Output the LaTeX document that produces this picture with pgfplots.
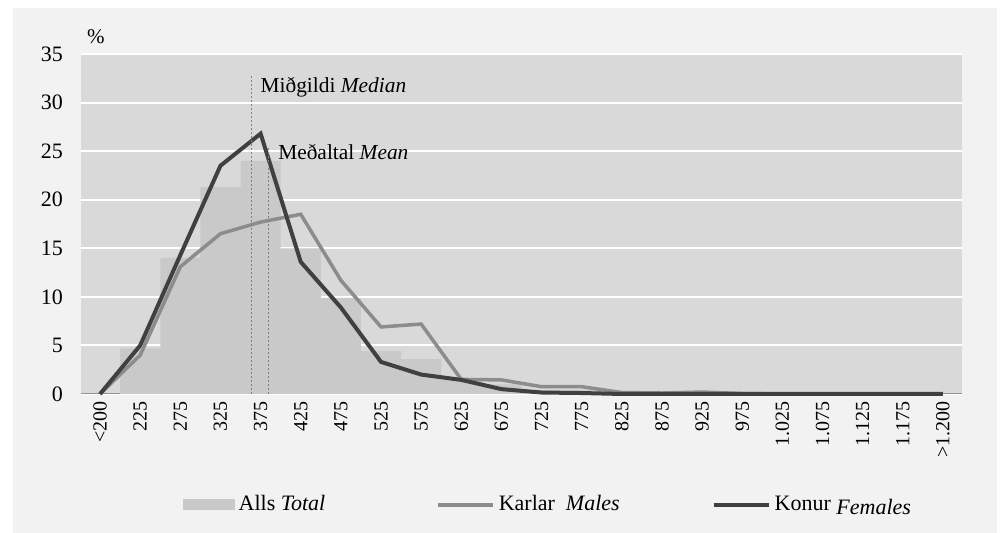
\documentclass[border=0pt]{standalone}
\usepackage{fontspec}
\setmainfont{Liberation Serif}
\usepackage{pgfplots}
\pgfplotsset{compat=1.18}
\definecolor{outerbg}{HTML}{F2F2F2}
\definecolor{plotbg}{HTML}{D9D9D9}
\definecolor{barcol}{HTML}{C9C9C9}
\definecolor{malecol}{HTML}{8C8C8C}
\definecolor{femcol}{HTML}{404040}
\definecolor{axisgray}{HTML}{8A8A8A}
\pgfplotsset{
  linelegend/.style={legend image code/.code={\draw[##1] (0pt,0pt) -- (27.5pt,0pt);}},
  boxlegend/.style={legend image code/.code={\fill[barcol] (0pt,-2.75pt) rectangle (26pt,2.75pt);}},
}
\begin{document}
\begin{tikzpicture}
\path[fill=white] (0pt,0pt) rectangle (501pt,266.5pt);
\fill[outerbg] (6.5pt,0pt) rectangle (498.5pt,262.5pt);
\begin{axis}[
  at={(40.5pt,69.5pt)}, anchor=south west,
  scale only axis, width=440.5pt, height=170pt,
  xmin=-0.475, xmax=21.475, ymin=0, ymax=35,
  ytick={0,5,...,35},
  xtick={0,...,21},
  xticklabels={{<200},225,275,325,375,425,475,525,575,625,675,725,775,825,875,925,975,{1.025},{1.075},{1.125},{1.175},{>1.200}},
  xticklabel style={rotate=90, anchor=east, font=\fontsize{10}{12}\selectfont},
  yticklabel style={xshift=-5.5pt, font=\fontsize{11}{13}\selectfont},
  /pgf/number format/assume math mode=true,
  major tick length=0pt,
  tick style={draw=none},
  axis background/.style={fill=plotbg},
  ymajorgrids, major grid style={white, line width=1pt},
  axis lines*=left,
  x axis line style={draw=axisgray, line width=0.5pt},
  y axis line style={draw=none},
  clip=false,
  legend columns=3,
  legend style={at={(0.531,-0.326)}, anchor=center, draw=none, fill=none,
    font=\fontsize{11}{13}\selectfont,
    /tikz/column 2/.style={column sep=53.5pt},
    /tikz/column 4/.style={column sep=44pt}},
]
\addplot[ybar, bar width=20.07pt, fill=barcol, draw=none, boxlegend]
  coordinates {(0,0) (1,4.7) (2,14.0) (3,21.3) (4,24.0) (5,15.0) (6,9.9) (7,4.4) (8,3.6) (9,1.5) (10,1.0) (11,0.4) (12,0.4) (13,0.1) (14,0.05) (15,0.1) (16,0) (17,0) (18,0) (19,0) (20,0) (21,0)};
\addlegendentry{Alls \textit{Total}}
\addplot[malecol, line width=1.75pt, linelegend]
  coordinates {(0,0) (1,4.0) (2,13.1) (3,16.5) (4,17.7) (5,18.5) (6,11.7) (7,6.9) (8,7.2) (9,1.5) (10,1.45) (11,0.75) (12,0.75) (13,0.15) (14,0.1) (15,0.2) (16,0.05) (17,0) (18,0) (19,0) (20,0) (21,0)};
\addlegendentry{Karlar\ \ \textit{Males}}
\addplot[femcol, line width=2pt, linelegend]
  coordinates {(0,0) (1,5.0) (2,14.3) (3,23.5) (4,26.8) (5,13.6) (6,8.9) (7,3.3) (8,2.0) (9,1.45) (10,0.5) (11,0.15) (12,0.1) (13,0) (14,0) (15,0) (16,0) (17,0) (18,0) (19,0) (20,0) (21,0)};
\addlegendentry{Konur \raisebox{-2pt}{\textit{Females}}}
\addplot[forget plot, gray, line width=0.4pt, dash pattern=on 1pt off 1pt] coordinates {(3.76,0) (3.76,32.8)};
\addplot[forget plot, gray, line width=0.4pt, dash pattern=on 1pt off 1pt] coordinates {(4.19,0) (4.19,25.5)};
\node[anchor=west, inner sep=0pt, font=\fontsize{10.7}{13}\selectfont] at (axis cs:3.99,31.6) {Miðgildi \textit{Median}};
\node[anchor=west, inner sep=0pt, font=\fontsize{10.7}{13}\selectfont] at (axis cs:4.43,24.9) {Meðaltal \textit{Mean}};
\node[inner sep=0pt, font=\fontsize{10.5}{13}\selectfont] at (rel axis cs:0.017,1.05) {\%};
\end{axis}
\end{tikzpicture}
\end{document}
